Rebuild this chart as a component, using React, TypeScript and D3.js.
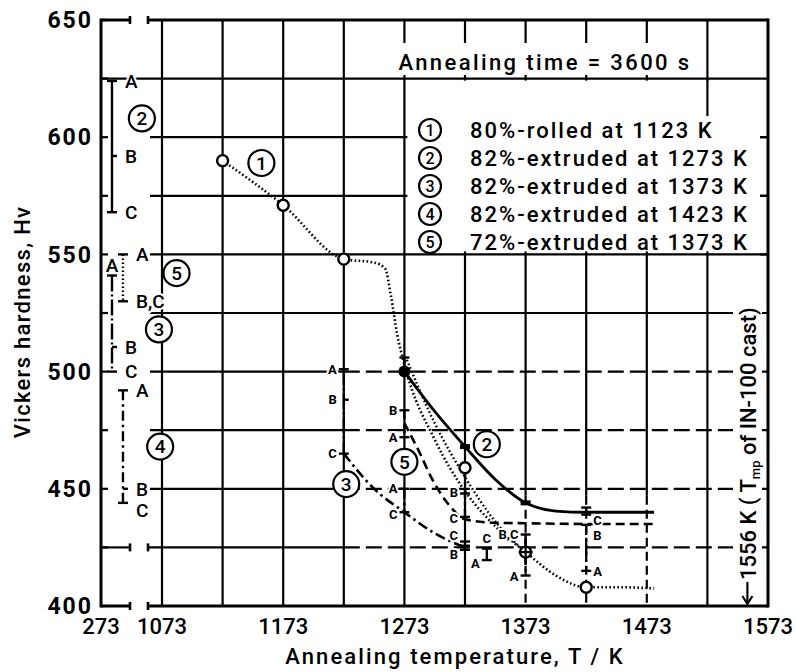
import React from 'react';
import * as d3 from 'd3';

// axis ticks / grid
const kTicks = [273, 1073, 1173, 1273, 1373, 1473, 1573];
const hvTicks = [400, 450, 500, 550, 600, 650];
const gridK = [1073, 1123, 1173, 1223, 1273, 1323, 1373, 1423, 1473, 1523];
const gridHv = [425, 450, 475, 500, 525, 550, 575, 600, 625];
const dashedHv = [425, 450, 475, 500];
const dashedK = [1373, 1423, 1473];

// curves (T / K, Hv)
const curve1 = [[1123, 590], [1173, 571], [1223, 548], [1248, 546.5], [1257, 544], [1262, 532], [1267, 516], [1273, 503], [1298, 471], [1323, 449], [1348, 434], [1373, 423], [1398, 413], [1423, 408], [1450, 408], [1479, 407.5]];
const curve1b = [[1275, 505], [1298, 478], [1323, 455], [1348, 436], [1373, 423]];
const curve2 = [[1273, 500], [1298, 483], [1323, 468], [1348, 454], [1373, 444], [1398, 440.5], [1423, 440], [1479, 440]];
const curve3 = [[1223, 465], [1248, 450], [1273, 440], [1298, 431], [1323, 425]];
const curve5 = [[1273, 478], [1285, 466], [1296, 454], [1310, 443], [1323, 437], [1348, 435.5], [1373, 435.3], [1423, 435], [1479, 435]];

// markers
const openPts = [[1123, 590], [1173, 571], [1223, 548], [1323, 459], [1373, 423], [1423, 408]];
const filledPts = [[1273, 500, 'c'], [1323, 468, 'r'], [1373, 444, 'r']];

// as-received bars (left column, fraction of 273..1073 gap)
const leftBars = [
  { c: 0.18, hi: 624, lo: 568, dash: 'solid', caps: [624, 568], ticks: [592], labels: [[624, 'A', 'r'], [592, 'B', 'r'], [568, 'C', 'r']] },
  { c: 0.36, hi: 550, lo: 530, dash: 'dot', caps: [550, 530], ticks: [], labels: [[550, 'A', 'r'], [530, 'B,C', 'r']] },
  { c: 0.18, hi: 541, lo: 500, dash: 'dashdot2', caps: [541, 500], ticks: [510.5], labels: [[545.5, 'A', 't'], [510.5, 'B', 'r'], [500, 'C', 'r']] },
  { c: 0.36, hi: 492, lo: 444, dash: 'dashdot', caps: [492, 444], ticks: [450], labels: [[492, 'A', 'r'], [450, 'B', 'r'], [441, 'C', 'r']] },
];

// annealed bars
const annealBars = [
  { k: 1223, hi: 501, lo: 465, dash: 'dashdot2', caps: [501, 465], ticks: [488], labels: [[501, 'A', 'l'], [488, 'B', 'l'], [465, 'C', 'l']] },
  { k: 1273, hi: 483.5, lo: 472, dash: 'dash', caps: [483.5, 472], ticks: [], labels: [[483.5, 'B', 'l'], [472, 'A', 'l']] },
  { k: 1273, hi: 450, lo: 440, dash: 'dashdot', caps: [450, 440], ticks: [], labels: [[450, 'A', 'l'], [439, 'C', 'l']] },
  { k: 1273, hi: 506, lo: 500, dash: 'solid', caps: [506], ticks: [], labels: [] },
  { k: 1323, hi: 459, lo: 438, dash: 'dashdot', caps: [448, 438], ticks: [], labels: [[448.5, 'B', 'l'], [437.5, 'C', 'l']] },
  { k: 1323, hi: 427.5, lo: 424, dash: 'solid', caps: [427.5, 425.7, 424], ticks: [], labels: [[430, 'C', 'l'], [422, 'B', 'l']] },
  { k: 1341, hi: 424.5, lo: 419.6, dash: 'solid', caps: [424.5, 419.6], ticks: [], labels: [[429, 'C', 't'], [418, 'A', 'l']] },
  { k: 1373, hi: 430.5, lo: 413, dash: 'dashdot', caps: [430.5, 413], ticks: [], labels: [[430.5, 'B,C', 'l'], [412.5, 'A', 'l']] },
  { k: 1423, hi: 442, lo: 439, dash: 'solid', caps: [442, 439], ticks: [], labels: [] },
  { k: 1423, hi: 434.6, lo: 415, dash: 'dashdot', caps: [434.6, 415], ticks: [], labels: [[436.5, 'C', 'r'], [430, 'B', 'r'], [415, 'A', 'r']] },
];

// circled sample numbers
const circleLabels = [[1155, 589, '1'], [1341, 469, '2'], [1225, 452, '3'], [1273, 461.5, '5'], [1085, 542, '5']];
const leftCircleLabels = [[0.67, 608, '2'], [0.95, 518, '3'], [0.97, 468, '4']];

const legendNums = ['1', '2', '3', '4', '5'];
const legendTexts = ['80%-rolled at 1123 K', '82%-extruded at 1273 K', '82%-extruded at 1373 K', '82%-extruded at 1423 K', '72%-extruded at 1373 K'];

const FONT = "Roboto, 'DejaVu Sans', sans-serif";
const DASH: Record<string, string | undefined> = {
  solid: undefined,
  dot: '1.6 2.4',
  dash: '9 5',
  dashdot: '10 4 2.5 4',
  dashdot2: '16 3 2 3',
};

const Lbl = ({ px, py, t, anchor = 'middle', size = 14, weight = 700 }: any) => (
  <text x={px} y={py} dy="0.36em" textAnchor={anchor} fontSize={size} fontWeight={weight}
    stroke="#fff" strokeWidth={4} strokeLinejoin="round" paintOrder="stroke" fill="#000">{t}</text>
);

const Circled = ({ px, py, n, r = 13, size = 19 }: any) => (
  <g>
    <circle cx={px} cy={py} r={r} fill="#fff" stroke="#000" strokeWidth={2.2} />
    <text x={px} y={py} dy="0.36em" textAnchor="middle" fontSize={size} fontWeight={500}>{n}</text>
  </g>
);

export default function App() {
  const W = 797, H = 672;
  const x = d3.scaleLinear().domain([273, 1073, 1573]).range([101, 162, 768]);
  const y = d3.scaleLinear().domain([400, 650]).range([606, 20]);
  const col = d3.scaleLinear().domain([0, 1]).range([x(273), x(1073)]);
  const line = d3.line<number[]>().x(d => x(d[0])).y(d => y(d[1])).curve(d3.curveMonotoneX);

  const breakL = x(273) + 29;
  const breakR = x(1073) - 14;
  const gridStart = x(1073) - 12;
  const right = x(1573);

  const bar = (px: number, b: any, big: boolean, key: string) => {
    const off = big ? 13 : 7;
    const size = big ? 19 : 13;
    return (
      <g key={key}>
        <line x1={px} x2={px} y1={y(b.hi)} y2={y(b.lo)} stroke="#000" strokeWidth={2.4} strokeDasharray={DASH[b.dash]} />
        {b.caps.map((v: number, i: number) => (
          <line key={i} x1={px - 5} x2={px + 5} y1={y(v)} y2={y(v)} stroke="#000" strokeWidth={2.4} />
        ))}
        {b.ticks.map((v: number, i: number) => (
          <line key={'t' + i} x1={px} x2={px + 5} y1={y(v)} y2={y(v)} stroke="#000" strokeWidth={2.4} />
        ))}
        {b.labels.map((l: any, i: number) => {
          const [v, t, side] = l;
          const lx = side === 'r' ? px + off : side === 'l' ? px - off : px;
          const anchor = side === 'r' ? 'start' : side === 'l' ? 'end' : 'middle';
          return <Lbl key={'l' + i} px={lx} py={y(v)} t={t} anchor={anchor} size={size} weight={big ? 500 : 700} />;
        })}
      </g>
    );
  };

  return (
    <svg width={W} height={H} style={{ position: 'absolute', left: 0, top: 0, background: '#fff' }} fontFamily={FONT}>
      <rect width={W} height={H} fill="#fff" />
      {/* grid */}
      <g stroke="#000" strokeWidth={2.2}>
        {gridK.map(k => dashedK.includes(k) ? (
          <g key={k}>
            <line x1={x(k)} x2={x(k)} y1={y(650)} y2={y(447)} />
            <line x1={x(k)} x2={x(k)} y1={y(447)} y2={y(400)} strokeDasharray="9 5" />
          </g>
        ) : <line key={k} x1={x(k)} x2={x(k)} y1={y(650)} y2={y(400)} />)}
        {gridHv.map(v => {
          const x0 = v === 625 ? x(273) : v === 425 ? breakR : gridStart;
          return dashedHv.includes(v) ? (
            <g key={v}>
              <line x1={x0} x2={x(1223)} y1={y(v)} y2={y(v)} />
              <line x1={x(1223)} x2={right} y1={y(v)} y2={y(v)} strokeDasharray="16 6" />
            </g>
          ) : <line key={v} x1={x0} x2={right} y1={y(v)} y2={y(v)} />;
        })}
        <line x1={x(273)} x2={breakL} y1={y(425)} y2={y(425)} />
        {d3.range(400, 651, 25).map(v => (
          <line key={'yt' + v} x1={x(273)} x2={x(273) + 7} y1={y(v)} y2={y(v)} />
        ))}
      </g>

      {/* blank areas for text */}
      <rect x={x(1273) + 3} y={y(625) + 2} width={760 - x(1273) - 3} height={y(550) - y(625) - 5} fill="#fff" />
      <line x1={x(1523)} x2={x(1523)} y1={y(625)} y2={y(609)} stroke="#000" strokeWidth={2.2} />
      <rect x={393} y={43} width={308} height={32} fill="#fff" />
      <rect x={733} y={257} width={29} height={347} fill="#fff" />

      {/* curves */}
      <g fill="none" stroke="#000">
        <path d={line(curve1 as any) || ''} strokeWidth={2.6} strokeDasharray={DASH.dot} />
        <path d={line(curve1b as any) || ''} strokeWidth={2.4} strokeDasharray={DASH.dot} />
        <path d={line(curve2 as any) || ''} strokeWidth={2.8} />
        <path d={line(curve3 as any) || ''} strokeWidth={2.6} strokeDasharray={DASH.dashdot} />
        <path d={line(curve5 as any) || ''} strokeWidth={2.6} strokeDasharray={DASH.dash} />
      </g>

      {/* bars */}
      {leftBars.map((b, i) => bar(col(b.c), b, true, 'lb' + i))}
      {annealBars.map((b, i) => bar(x(b.k), b, false, 'ab' + i))}

      {/* markers */}
      {openPts.map((p, i) => (
        <circle key={'o' + i} cx={x(p[0])} cy={y(p[1])} r={5.5} fill="#fff" stroke="#000" strokeWidth={2.4} />
      ))}
      <line x1={x(1373)} x2={x(1373)} y1={y(428)} y2={y(418)} stroke="#000" strokeWidth={2.2} />
      <line x1={x(1373) - 7} x2={x(1373) + 7} y1={y(423)} y2={y(423)} stroke="#000" strokeWidth={2.2} />
      {filledPts.map((p, i) => p[2] === 'c'
        ? <circle key={'f' + i} cx={x(p[0] as number)} cy={y(p[1] as number)} r={6} fill="#000" />
        : <rect key={'f' + i} x={x(p[0] as number) - 5} y={y(p[1] as number) - 2.5} width={10} height={5} fill="#000" />)}

      {/* circled numbers */}
      {circleLabels.map((c, i) => <Circled key={'c' + i} px={x(c[0] as number)} py={y(c[1] as number)} n={c[2]} />)}
      {leftCircleLabels.map((c, i) => <Circled key={'lc' + i} px={col(c[0] as number)} py={y(c[1] as number)} n={c[2]} />)}

      {/* legend */}
      <text x={545} y={62} dy="0.36em" textAnchor="middle" fontSize={22} fontWeight={500} letterSpacing={2.4}>Annealing time = 3600 s</text>
      {legendNums.map((n, i) => (
        <g key={'lg' + i}>
          <Circled px={430} py={130 + i * 28} n={n} r={11} size={16} />
          <text x={470} y={130 + i * 28} dy="0.36em" fontSize={22} fontWeight={500} letterSpacing={2}>{legendTexts[i]}</text>
        </g>
      ))}
      {[600, 575, 550].map(v => (
        <line key={'rt' + v} x1={760} x2={right} y1={y(v)} y2={y(v)} stroke="#000" strokeWidth={2.2} />
      ))}

      {/* Tmp marker */}
      <line x1={x(1556)} x2={x(1556)} y1={582} y2={603} stroke="#000" strokeWidth={2.2} />
      <path d={`M${x(1556) - 5},${596} L${x(1556)},${604} L${x(1556) + 5},${596}`} fill="none" stroke="#000" strokeWidth={2.2} />
      <text transform={`translate(${x(1556) + 9},${580}) rotate(-90)`} fontSize={22} fontWeight={500}>
        1556 K ( T<tspan fontSize={13} dy={4}>mp</tspan><tspan dy={-4}> of IN-100 cast)</tspan>
      </text>

      {/* frame with axis breaks */}
      <g stroke="#000" strokeWidth={3}>
        <line x1={x(273)} x2={x(273)} y1={y(650) - 1.5} y2={y(400) + 1.5} />
        <line x1={right} x2={right} y1={y(650) - 1.5} y2={y(400) + 1.5} />
        {[650, 400].map(v => (
          <g key={'fr' + v}>
            <line x1={x(273)} x2={breakL} y1={y(v)} y2={y(v)} />
            <line x1={breakR} x2={right} y1={y(v)} y2={y(v)} />
          </g>
        ))}
        {[650, 425, 400].map(v => (
          <g key={'bk' + v} strokeWidth={2.6}>
            <line x1={breakL} x2={breakL} y1={y(v) - 4} y2={y(v) + 4} />
            <line x1={breakR} x2={breakR} y1={y(v) - 4} y2={y(v) + 4} />
          </g>
        ))}
      </g>

      {/* tick labels */}
      {hvTicks.map(v => (
        <text key={'hy' + v} x={93} y={y(v)} dy="0.36em" textAnchor="end" fontSize={23} fontWeight={700} letterSpacing={2}>{v}</text>
      ))}
      {kTicks.map(k => (
        <text key={'kx' + k} x={x(k)} y={634} textAnchor="middle" fontSize={22} fontWeight={500}>{k}</text>
      ))}

      {/* axis titles */}
      <text x={455} y={664} textAnchor="middle" fontSize={22} fontWeight={500} letterSpacing={2.1}>Annealing temperature, T / K</text>
      <text transform={`translate(30,${322}) rotate(-90)`} textAnchor="middle" fontSize={22} fontWeight={500} letterSpacing={1.3}>Vickers hardness, Hv</text>
    </svg>
  );
}
